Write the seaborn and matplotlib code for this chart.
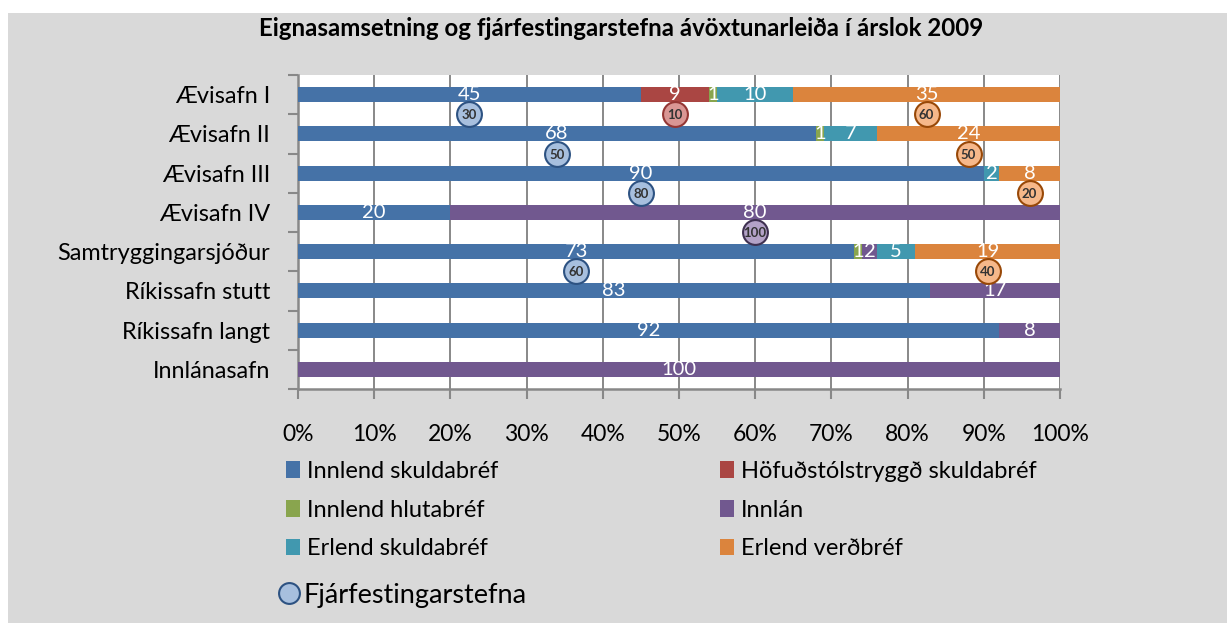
import numpy as np
import pandas as pd
import seaborn as sns
import matplotlib.pyplot as plt
from matplotlib import ticker
from matplotlib.patches import Rectangle, Patch
from matplotlib.lines import Line2D

# categories (top to bottom)
sjodir = ['Ævisafn I', 'Ævisafn II', 'Ævisafn III', 'Ævisafn IV',
          'Samtryggingarsjóður', 'Ríkissafn stutt', 'Ríkissafn langt', 'Innlánasafn']

# asset composition, % (stacking order)
innlend_skuldabref = [45, 68, 90, 20, 73, 83, 92, 0]
hofudstolstryggd   = [9, 0, 0, 0, 0, 0, 0, 0]
innlend_hlutabref  = [1, 1, 0, 0, 1, 0, 0, 0]
innlan             = [0, 0, 0, 80, 2, 17, 8, 100]
erlend_skuldabref  = [10, 7, 2, 0, 5, 0, 0, 0]
erlend_verdbref    = [35, 24, 8, 0, 19, 0, 0, 0]

# investment policy (Fjárfestingarstefna), None = no marker
stefna_innlend_skuldabref = [30, 50, 80, None, 60, None, None, None]
stefna_hofudstolstryggd   = [10, None, None, None, None, None, None, None]
stefna_innlan             = [None, None, None, 100, None, None, None, None]
stefna_erlend_verdbref    = [60, 50, 20, None, 40, None, None, None]

series_names = ['Innlend skuldabréf', 'Höfuðstólstryggð skuldabréf', 'Innlend hlutabréf',
                'Innlán', 'Erlend skuldabréf', 'Erlend verðbréf']
series_vals = [innlend_skuldabref, hofudstolstryggd, innlend_hlutabref,
               innlan, erlend_skuldabref, erlend_verdbref]
colors = ['#4572A7', '#AA4643', '#89A54E', '#71588F', '#4198AF', '#DB843D']
stefna = {0: stefna_innlend_skuldabref, 1: stefna_hofudstolstryggd,
          3: stefna_innlan, 5: stefna_erlend_verdbref}
circle_face = {0: '#a7bfde', 1: '#d99694', 3: '#b3a2c7', 5: '#f6b88a'}
circle_edge = {0: '#2d5282', 1: '#943634', 3: '#3f3151', 5: '#984807'}

plt.rcParams['font.family'] = ['Lato', 'DejaVu Sans']

fig = plt.figure(figsize=(12.27, 6.23), dpi=100)
fig.patch.set_facecolor('white')
fig.patches.append(Rectangle((8 / 1227, 0), 1, 1 - 13 / 623, transform=fig.transFigure,
                             facecolor='#d9d9d9', edgecolor='none', zorder=-10))
ax = fig.add_axes([298 / 1227, 1 - 389 / 623, 762 / 1227, 314 / 623])
ax.set_facecolor('white')

df = pd.DataFrame(dict(zip(series_names, series_vals)), index=sjodir)
cum = df.cumsum(axis=1)

# stacked bars: draw cumulative totals from the last series back to the first
for k in range(len(series_names) - 1, -1, -1):
    sns.barplot(x=cum.iloc[:, k].values, y=sjodir, orient='h', color=colors[k],
                saturation=1, width=0.38, linewidth=0, ax=ax, zorder=3)

# data labels in white
for k, name in enumerate(series_names):
    for i, cat in enumerate(sjodir):
        v = df.loc[cat, name]
        if v > 0:
            ax.text(cum.loc[cat, name] - v / 2, i, f'{v}', ha='center', va='center',
                    color='white', fontsize=14.5, zorder=5)

# policy circles below each segment
for k, vals in stefna.items():
    xs, ys, labs = [], [], []
    for i, cat in enumerate(sjodir):
        if vals[i] is not None:
            xs.append(cum.loc[cat, series_names[k]] - df.loc[cat, series_names[k]] / 2)
            ys.append(i + 0.5)
            labs.append(vals[i])
    sns.scatterplot(x=xs, y=ys, s=320, color=circle_face[k], edgecolor=circle_edge[k],
                    linewidth=1.5, ax=ax, zorder=6, legend=False)
    for x, y, t in zip(xs, ys, labs):
        ax.text(x, y + 0.03, f'{t}', ha='center', va='center', fontsize=9.5,
                fontweight='bold', color='#333333', zorder=7)

ax.set_xlim(0, 100)
ax.set_ylim(7.5, -0.5)
ax.xaxis.set_major_locator(ticker.MultipleLocator(10))
ax.xaxis.set_major_formatter(ticker.FuncFormatter(lambda v, p: f'{v:.0f}%'))
ax.yaxis.set_minor_locator(ticker.FixedLocator(np.arange(-0.5, 8, 1)))
ax.grid(axis='x', color='#888888', linewidth=1.4, zorder=0)
ax.set_axisbelow(True)
ax.set_xlabel('')
ax.set_ylabel('')
for s in ['top', 'right']:
    ax.spines[s].set_visible(False)
for s in ['left', 'bottom']:
    ax.spines[s].set_color('#888888')
    ax.spines[s].set_linewidth(1.8)
ax.tick_params(axis='x', length=7, width=1.5, color='#888888', pad=18, labelsize=16.5,
               labelcolor='black')
ax.tick_params(axis='y', which='major', length=0, pad=20, labelsize=16.9, labelcolor='black')
ax.tick_params(axis='y', which='minor', length=7, width=1.5, color='#888888')

fig.text(621 / 1227, 1 - 29 / 623, 'Eignasamsetning og fjárfestingarstefna ávöxtunarleiða í árslok 2009',
         ha='center', va='center', fontsize=17.3, fontweight='bold')

# legend, rows filled left to right
order = [0, 2, 4, 1, 3, 5]
handles = [Patch(facecolor=colors[k], edgecolor='none') for k in order]
labels = [series_names[k] for k in order]
fig.legend(handles, labels, ncol=2, loc='upper left', bbox_to_anchor=(286 / 1227, 1 - 461 / 623),
           frameon=False, fontsize=17, handlelength=0.6, handleheight=0.7, handletextpad=0.3,
           columnspacing=9.37, labelspacing=0.75, borderpad=0, borderaxespad=0)
h2 = Line2D([], [], marker='o', linestyle='none', markersize=15, markerfacecolor='#a7bfde',
            markeredgecolor='#2d5282', markeredgewidth=1.5)
fig.legend([h2], ['Fjárfestingarstefna'], loc='center left', bbox_to_anchor=(278 / 1227, 1 - 595 / 623),
           frameon=False, fontsize=19.5, handlelength=0.8, handletextpad=0.15, borderpad=0,
           borderaxespad=0)

fig.savefig('out.png', dpi=100)
